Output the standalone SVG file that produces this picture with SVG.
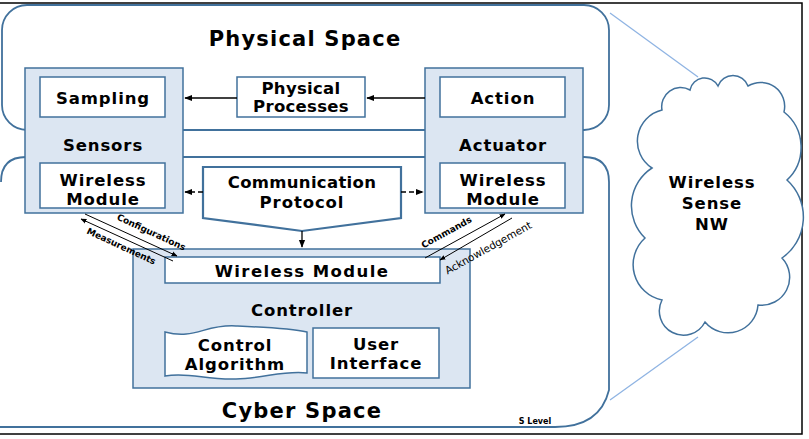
<svg xmlns="http://www.w3.org/2000/svg" width="809" height="439" viewBox="0 0 809 439">
<defs>
<style>
.space{fill:#ffffff;stroke:#41719C;stroke-width:1.8}
.outer{fill:#DCE6F2;stroke:#41719C;stroke-width:1.5}
.inner{fill:#ffffff;stroke:#41719C;stroke-width:1.5}
.t{font-family:"DejaVu Sans","Liberation Sans",sans-serif;font-weight:bold;fill:#000;text-anchor:middle}
.big{font-size:21px;letter-spacing:1.2px}
.mid{font-size:16.5px;letter-spacing:0.9px}
.small{font-size:9px}
.conn{stroke:#000;stroke-width:1.3;fill:none}
.thin{stroke:#000;stroke-width:1;fill:none}
.link{stroke:#8FB4E3;stroke-width:1.3;fill:none}
</style>
<marker id="ah" viewBox="0 0 10 10" refX="9" refY="5" markerWidth="6" markerHeight="6" orient="auto-start-reverse">
<path d="M0,1 L10,5 L0,9 z" fill="#000"/>
</marker>
</defs>
<rect x="-3" y="3" width="805" height="431" fill="#ffffff" stroke="#000" stroke-width="1.5"/>
<g id="physical-space">
<rect class="space" x="2" y="5" width="607" height="125" rx="25" ry="25"/>
<text class="t big" x="305" y="46">Physical Space</text>
</g>
<g id="cyber-space">
<path class="space" d="M1,182 Q1,157 26,157 L584,157 Q609,157 609,182 L609,390 Q600,427 555,427 L0,427"/>
<text class="t big" x="302" y="418">Cyber Space</text>
<text class="t" style="font-size:8px" x="535" y="424">S Level</text>
</g>
<g id="cloud-links">
<line class="link" x1="610" y1="13" x2="698" y2="77"/>
<line class="link" x1="698" y1="337" x2="610" y2="400"/>
</g>
<g id="wireless-sense-nw">
<path fill="#ffffff" stroke="#41719C" stroke-width="1.5" d="M662,110 A19,19 0 0 1 690,90 A15,15 0 0 1 718,86 A16,16 0 0 1 748,86 A24,24 0 0 1 784,112 A45,45 0 0 1 787,180 A50,50 0 0 1 782,258 A28,28 0 0 1 758,305 A30,30 0 0 1 705,322 A24,24 0 0 1 662,300 A36,36 0 0 1 645,238 A45,45 0 0 1 652,168 A32,32 0 0 1 662,110 Z"/>
<text class="t mid" x="712" y="188">Wireless</text>
<text class="t mid" x="712" y="209">Sense</text>
<text class="t mid" x="712" y="230">NW</text>
</g>
<g id="sensors">
<rect class="outer" x="25" y="68" width="158" height="145"/>
<text class="t mid" x="103" y="151">Sensors</text>
</g>
<g id="sampling">
<rect class="inner" x="40" y="77" width="125" height="40"/>
<text class="t mid" x="103" y="104">Sampling</text>
</g>
<g id="sensors-wireless-module">
<rect class="inner" x="40" y="163" width="125" height="45"/>
<text class="t mid" x="103" y="186">Wireless</text>
<text class="t mid" x="103" y="205">Module</text>
</g>
<g id="actuator">
<rect class="outer" x="425" y="68" width="158" height="145"/>
<text class="t mid" x="503" y="151">Actuator</text>
</g>
<g id="action">
<rect class="inner" x="440" y="77" width="125" height="40"/>
<text class="t mid" x="503" y="104">Action</text>
</g>
<g id="actuator-wireless-module">
<rect class="inner" x="440" y="163" width="125" height="45"/>
<text class="t mid" x="503" y="186">Wireless</text>
<text class="t mid" x="503" y="205">Module</text>
</g>
<g id="physical-processes">
<rect class="inner" x="237" y="77" width="128" height="40"/>
<text class="t mid" style="letter-spacing:0.3px" x="301" y="94">Physical</text>
<text class="t mid" style="letter-spacing:0.3px" x="301" y="112">Processes</text>
</g>
<g id="communication-protocol">
<path fill="#ffffff" stroke="#41719C" stroke-width="2.2" d="M203,167 L401,167 L401,218 L302,231 L203,218 Z"/>
<text class="t mid" style="letter-spacing:0.3px" x="302" y="188">Communication</text>
<text class="t mid" x="302" y="208">Protocol</text>
</g>
<g id="controller">
<rect class="outer" x="133" y="249" width="337" height="139"/>
<text class="t mid" x="302" y="316">Controller</text>
</g>
<g id="controller-wireless-module">
<rect class="inner" x="165" y="257" width="275" height="26"/>
<text class="t mid" style="font-weight:600;letter-spacing:1.4px" x="302" y="277">Wireless Module</text>
</g>
<g id="control-algorithm">
<path class="inner" d="M165,332 C195,340 205,324 236,326 C262,327 290,328 307,332 L307,373 C285,370 265,378 236,379 C205,380 190,372 165,376 Z"/>
<text class="t mid" x="235" y="351">Control</text>
<text class="t mid" x="235" y="370">Algorithm</text>
</g>
<g id="user-interface">
<rect class="inner" x="313" y="328" width="126" height="50"/>
<text class="t mid" x="376" y="350">User</text>
<text class="t mid" x="376" y="369">Interface</text>
</g>
<g id="connectors">
<line class="conn" x1="425" y1="98" x2="367" y2="98" marker-end="url(#ah)"/>
<line class="conn" x1="237" y1="98" x2="185" y2="98" marker-end="url(#ah)"/>
<line class="conn" x1="203" y1="192" x2="185" y2="192" marker-end="url(#ah)" stroke-dasharray="5,3"/>
<line class="conn" x1="401" y1="192" x2="423" y2="192" marker-end="url(#ah)" stroke-dasharray="5,3"/>
<line class="conn" x1="302" y1="231" x2="302" y2="247" marker-end="url(#ah)"/>
<line class="thin" x1="85" y1="214" x2="177" y2="256" marker-end="url(#ah)"/>
<line class="thin" x1="173" y1="261" x2="81" y2="219" marker-end="url(#ah)"/>
<line class="thin" x1="425" y1="258" x2="505" y2="214" marker-end="url(#ah)"/>
<line class="thin" x1="512" y1="218" x2="440" y2="260" marker-end="url(#ah)"/>
<text class="t small" transform="translate(150,235) rotate(25)">Configurations</text>
<text class="t small" transform="translate(120,249) rotate(25)">Measurements</text>
<text class="t small" transform="translate(448,235) rotate(-29)">Commands</text>
<text class="t small" style="font-weight:normal;font-size:10.5px" transform="translate(490,251) rotate(-29)">Acknowledgement</text>
</g>
</svg>
